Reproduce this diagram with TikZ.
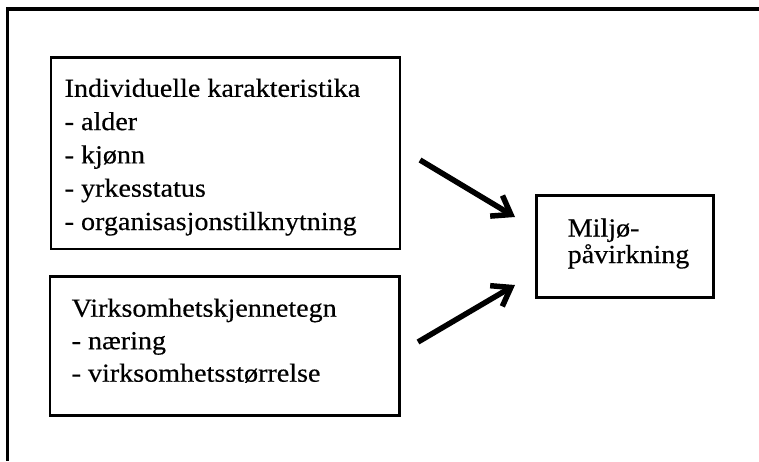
\documentclass[tikz,border=0pt]{standalone}
\usepackage{fontspec}
\setmainfont{Liberation Serif}[FakeStretch=1.08, FakeBold=0.4]
\usetikzlibrary{arrows.meta}
\begin{document}
\begin{tikzpicture}[x=1pt,y=-1pt,
  frame/.style={line width=3.2pt},
  box/.style={draw, line width=2.5pt, rectangle, inner sep=0pt, anchor=north west},
  label/.style={anchor=base west, align=left, inner sep=0pt},
  link/.style={line width=5.5pt, -{Straight Barb[length=17pt,width=24pt]}}
]
\useasboundingbox (0,0) rectangle (759,461);

% open frame: top and left edges only
\draw[frame] (759,9) -- (7.5,9) -- (7.5,461);

% boxes
\node[box, minimum width=349.2pt, minimum height=191.7pt] (box1) at (49.5,56) {};
\node[box, minimum width=349.6pt, minimum height=139.3pt] (box2) at (48.7,275) {};
\node[box, minimum width=176.7pt, minimum height=101.7pt] (box3) at (535.3,194.3) {};

% box texts (placed by the baseline of their last line)
\node[label, font=\fontsize{26}{33.3}\selectfont] (t1) at (64.5,230)
  {Individuelle karakteristika\\- alder\\- kjønn\\- yrkesstatus\\- organisasjonstilknytning};
\node[label, font=\fontsize{26}{32.5}\selectfont] (t2) at (71.5,381.7)
  {Virksomhetskjennetegn\\- næring\\- virksomhetsstørrelse};
\node[label, font=\fontsize{26}{26.5}\selectfont] (t3) at (567.5,263)
  {Miljø-\\påvirkning};

% arrows towards the outcome box
\coordinate (a1s) at (420,160);
\coordinate (a1e) at (515,217);
\coordinate (a2s) at (418,342);
\coordinate (a2e) at (515,285);
\draw[link] (a1s) -- (a1e);
\draw[link] (a2s) -- (a2e);
\end{tikzpicture}
\end{document}
